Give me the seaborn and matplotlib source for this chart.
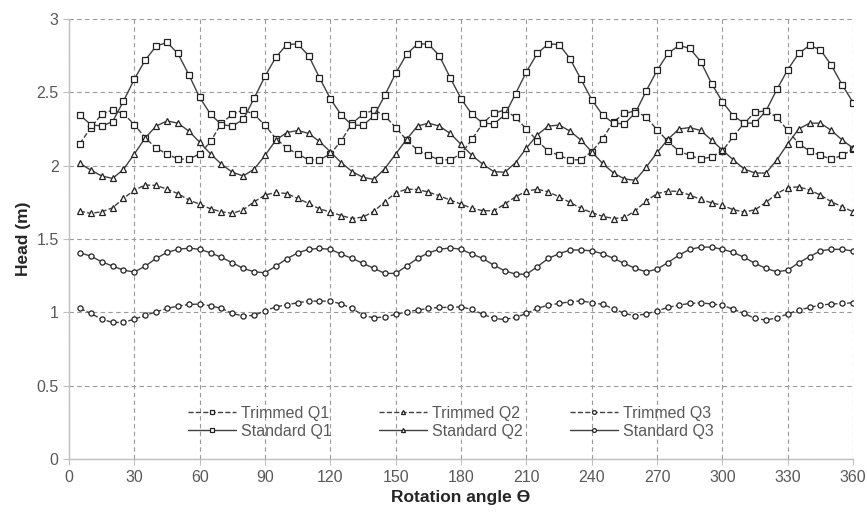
import numpy as np
import pandas as pd
import seaborn as sns
import matplotlib
matplotlib.use("Agg")
import matplotlib.pyplot as plt

# rotation angle, every 5 degrees
theta = list(range(5, 361, 5))

standard_q1 = [2.345, 2.28, 2.27, 2.30, 2.44, 2.59, 2.72, 2.815, 2.84, 2.765, 2.62, 2.465,
               2.35, 2.28, 2.27, 2.315, 2.46, 2.61, 2.74, 2.826, 2.83, 2.75, 2.60, 2.456,
               2.345, 2.277, 2.275, 2.34, 2.48, 2.63, 2.76, 2.83, 2.83, 2.75, 2.60, 2.456,
               2.35, 2.29, 2.285, 2.345, 2.49, 2.64, 2.765, 2.83, 2.826, 2.73, 2.59, 2.45,
               2.345, 2.29, 2.285, 2.36, 2.51, 2.65, 2.765, 2.82, 2.80, 2.71, 2.56, 2.435,
               2.34, 2.29, 2.29, 2.374, 2.52, 2.655, 2.765, 2.82, 2.79, 2.685, 2.55, 2.43]
trimmed_q1 = [2.15, 2.26, 2.35, 2.38, 2.355, 2.28, 2.19, 2.12, 2.08, 2.045, 2.045, 2.08,
              2.165, 2.29, 2.35, 2.38, 2.35, 2.275, 2.185, 2.12, 2.08, 2.04, 2.04, 2.08,
              2.17, 2.29, 2.35, 2.38, 2.34, 2.26, 2.175, 2.106, 2.07, 2.04, 2.04, 2.08,
              2.18, 2.29, 2.356, 2.38, 2.33, 2.25, 2.17, 2.10, 2.07, 2.04, 2.04, 2.095,
              2.185, 2.30, 2.356, 2.374, 2.33, 2.245, 2.165, 2.10, 2.07, 2.045, 2.06, 2.10,
              2.20, 2.29, 2.365, 2.374, 2.33, 2.24, 2.15, 2.10, 2.07, 2.045, 2.07, 2.113]
standard_q2 = [2.015, 1.97, 1.93, 1.913, 1.975, 2.08, 2.19, 2.27, 2.305, 2.29, 2.236, 2.16,
               2.08, 2.01, 1.955, 1.93, 1.977, 2.07, 2.175, 2.226, 2.24, 2.22, 2.165, 2.095,
               2.02, 1.96, 1.92, 1.907, 1.98, 2.08, 2.18, 2.27, 2.29, 2.27, 2.22, 2.145,
               2.07, 2.01, 1.96, 1.955, 2.02, 2.12, 2.21, 2.27, 2.277, 2.236, 2.175, 2.095,
               2.015, 1.95, 1.91, 1.90, 1.99, 2.09, 2.18, 2.25, 2.26, 2.24, 2.175, 2.106,
               2.04, 1.977, 1.95, 1.95, 2.04, 2.15, 2.25, 2.29, 2.29, 2.24, 2.175, 2.12]
trimmed_q2 = [1.69, 1.675, 1.686, 1.713, 1.777, 1.834, 1.868, 1.866, 1.84, 1.81, 1.766, 1.738,
              1.706, 1.686, 1.675, 1.70, 1.754, 1.80, 1.818, 1.81, 1.777, 1.743, 1.706, 1.684,
              1.66, 1.64, 1.65, 1.69, 1.754, 1.815, 1.84, 1.838, 1.82, 1.795, 1.766, 1.738,
              1.71, 1.693, 1.693, 1.738, 1.788, 1.827, 1.84, 1.822, 1.788, 1.75, 1.71, 1.68,
              1.655, 1.64, 1.647, 1.693, 1.76, 1.81, 1.827, 1.825, 1.80, 1.77, 1.747, 1.73,
              1.70, 1.684, 1.70, 1.75, 1.81, 1.85, 1.856, 1.834, 1.80, 1.754, 1.72, 1.686]
standard_q3 = [1.406, 1.384, 1.345, 1.316, 1.288, 1.275, 1.316, 1.368, 1.409, 1.43, 1.438, 1.43,
               1.406, 1.375, 1.338, 1.30, 1.277, 1.27, 1.316, 1.365, 1.406, 1.43, 1.436, 1.43,
               1.397, 1.368, 1.334, 1.30, 1.266, 1.266, 1.316, 1.368, 1.406, 1.43, 1.44, 1.43,
               1.397, 1.368, 1.322, 1.284, 1.261, 1.26, 1.311, 1.368, 1.40, 1.425, 1.425, 1.42,
               1.40, 1.368, 1.334, 1.30, 1.277, 1.295, 1.34, 1.39, 1.43, 1.445, 1.445, 1.43,
               1.409, 1.375, 1.334, 1.30, 1.277, 1.288, 1.338, 1.38, 1.42, 1.43, 1.43, 1.418]
trimmed_q3 = [1.027, 0.993, 0.954, 0.932, 0.932, 0.954, 0.98, 1.004, 1.027, 1.043, 1.054, 1.057,
              1.045, 1.027, 0.993, 0.975, 0.98, 1.011, 1.038, 1.052, 1.066, 1.077, 1.077, 1.077,
              1.057, 1.027, 0.98, 0.963, 0.97, 0.986, 1.004, 1.016, 1.027, 1.034, 1.034, 1.038,
              1.02, 0.988, 0.959, 0.952, 0.966, 0.993, 1.027, 1.05, 1.061, 1.072, 1.079, 1.066,
              1.055, 1.025, 0.993, 0.977, 0.99, 1.011, 1.034, 1.05, 1.061, 1.066, 1.057, 1.05,
              1.02, 0.993, 0.959, 0.948, 0.963, 0.99, 1.016, 1.034, 1.05, 1.057, 1.061, 1.066]

x_ticks = [0, 30, 60, 90, 120, 150, 180, 210, 240, 270, 300, 330, 360]
y_ticks = [0, 0.5, 1, 1.5, 2, 2.5, 3]

sns.set_style("white")
plt.rcParams["font.family"] = ["Liberation Sans", "DejaVu Sans"]

fig, ax = plt.subplots(figsize=(8.67, 5.13), dpi=100)
fig.subplots_adjust(left=0.0796, right=0.984, bottom=0.105, top=0.963)

line_col = "#404040"
# (label, data, marker, markersize, dashed)
series = [
    ("Trimmed Q1", trimmed_q1, "s", 4.4, True),
    ("Standard Q1", standard_q1, "s", 4.4, False),
    ("Trimmed Q2", trimmed_q2, "^", 3.9, True),
    ("Standard Q2", standard_q2, "^", 3.9, False),
    ("Trimmed Q3", trimmed_q3, "o", 3.7, True),
    ("Standard Q3", standard_q3, "o", 3.7, False),
]

for label, vals, mk, ms, dashed in series:
    sns.lineplot(x=theta, y=vals, ax=ax, label=label, color=line_col,
                 linewidth=1.0, marker=mk, markersize=ms,
                 markerfacecolor="white", markeredgecolor="#222222",
                 markeredgewidth=0.9,
                 dashes=(3, 2.5) if dashed else "", linestyle="--" if dashed else "-")

ax.set_xlim(0, 360)
ax.set_ylim(0, 3)
ax.set_xticks(x_ticks)
ax.set_yticks(y_ticks)
ax.set_yticklabels(["0", "0.5", "1", "1.5", "2", "2.5", "3"])

ax.grid(True, linestyle=(0, (4, 3)), color="#9a9a9a", linewidth=0.8)
for s in ["top", "right"]:
    ax.spines[s].set_visible(False)
for s in ["left", "bottom"]:
    ax.spines[s].set_color("#bfbfbf")
    ax.spines[s].set_linewidth(1.0)
ax.tick_params(axis="both", direction="out", length=4, color="#bfbfbf",
               labelsize=11.5, labelcolor="#595959", left=True, bottom=True)

ax.set_xlabel("Rotation angle ϴ", fontsize=12.5, fontweight="bold", labelpad=4)
ax.set_ylabel("Head (m)", fontsize=12.5, fontweight="bold", labelpad=4)

leg = ax.legend(ncol=3, loc="center", bbox_to_anchor=(0.487, 0.084), frameon=False,
                fontsize=11.5, handlelength=3.0, columnspacing=3.0, handletextpad=0.3,
                labelspacing=0.2, markerscale=0.75)
for t in leg.get_texts():
    t.set_color("#595959")

plt.savefig("out.png", dpi=100)
